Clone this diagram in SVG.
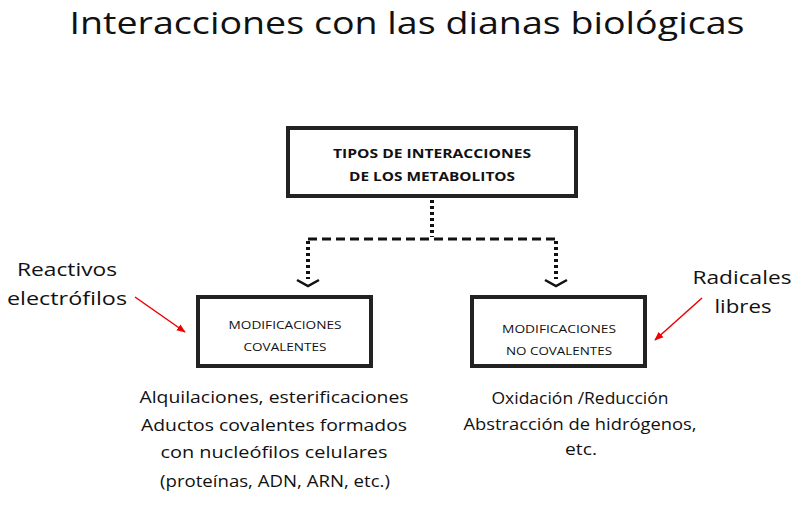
<svg xmlns="http://www.w3.org/2000/svg" width="807" height="505" viewBox="0 0 807 505">
<style>
.t{font-family:"Open Sans","DejaVu Sans",sans-serif;fill:#111;text-anchor:middle}
.box{fill:#fff;stroke:#222;stroke-width:4}
.dot{stroke:#111;stroke-width:4;stroke-dasharray:3 3;fill:none}
.dash{stroke:#111;stroke-width:3;stroke-dasharray:9 5;fill:none}
.chev{stroke:#111;stroke-width:2.5;fill:none}
.red{stroke:#e00;stroke-width:1.5;fill:none}
</style>
<defs>
<marker id="ra" viewBox="0 0 10 10" refX="9" refY="5" markerWidth="6" markerHeight="6" orient="auto"><path d="M0,1 L10,5 L0,9 Z" fill="#e00"/></marker>
</defs>
<rect width="807" height="505" fill="#fff"/>
<text class="t" x="407" y="34" font-size="31" textLength="675" lengthAdjust="spacingAndGlyphs">Interacciones con las dianas biológicas</text>
<g id="connectors">
<path class="dot" d="M432,200 V237"/>
<path class="dash" d="M308,239 H556"/>
<path class="dot" d="M308,241 V279"/>
<path class="dot" d="M556,241 V279"/>
<path class="chev" d="M297,280 L308,286 L319,280"/>
<path class="chev" d="M545,280 L556,286 L567,280"/>
<path class="red" d="M135,297 L185,332" marker-end="url(#ra)"/>
<path class="red" d="M702,298 L655,340" marker-end="url(#ra)"/>
</g>
<g id="top">
<rect class="box" x="288" y="128" width="288" height="68"/>
<text class="t" x="432" y="158" font-size="13" font-weight="bold" textLength="198" lengthAdjust="spacingAndGlyphs">TIPOS DE INTERACCIONES</text>
<text class="t" x="432" y="181" font-size="13" font-weight="bold" textLength="166" lengthAdjust="spacingAndGlyphs">DE LOS METABOLITOS</text>
</g>
<g id="cov">
<rect class="box" x="198" y="297" width="173" height="69"/>
<text class="t" x="285" y="329" font-size="11.5" textLength="113" lengthAdjust="spacingAndGlyphs">MODIFICACIONES</text>
<text class="t" x="285" y="351" font-size="11.5" textLength="83" lengthAdjust="spacingAndGlyphs">COVALENTES</text>
</g>
<g id="nocov">
<rect class="box" x="472" y="297" width="173" height="69"/>
<text class="t" x="559" y="333" font-size="11.5" textLength="114" lengthAdjust="spacingAndGlyphs">MODIFICACIONES</text>
<text class="t" x="559" y="355" font-size="11.5" textLength="106" lengthAdjust="spacingAndGlyphs">NO COVALENTES</text>
</g>
<g id="lab-left">
<text class="t" x="67" y="276" font-size="19" textLength="100" lengthAdjust="spacingAndGlyphs">Reactivos</text>
<text class="t" x="67" y="305" font-size="19" textLength="120" lengthAdjust="spacingAndGlyphs">electrófilos</text>
</g>
<g id="lab-right">
<text class="t" x="742" y="284" font-size="19" textLength="99" lengthAdjust="spacingAndGlyphs">Radicales</text>
<text class="t" x="743" y="313" font-size="19" textLength="57" lengthAdjust="spacingAndGlyphs">libres</text>
</g>
<g id="desc-left">
<text class="t" x="274" y="403" font-size="15.5" textLength="269" lengthAdjust="spacingAndGlyphs">Alquilaciones, esterificaciones</text>
<text class="t" x="274" y="431" font-size="15.5" textLength="266" lengthAdjust="spacingAndGlyphs">Aductos covalentes formados</text>
<text class="t" x="274" y="458" font-size="15.5" textLength="227" lengthAdjust="spacingAndGlyphs">con  nucleófilos celulares</text>
<text class="t" x="275" y="487" font-size="15.5" textLength="230" lengthAdjust="spacingAndGlyphs">(proteínas, ADN, ARN, etc.)</text>
</g>
<g id="desc-right">
<text class="t" x="580" y="404" font-size="15.5" textLength="177" lengthAdjust="spacingAndGlyphs">Oxidación /Reducción</text>
<text class="t" x="580" y="430" font-size="15.5" textLength="233" lengthAdjust="spacingAndGlyphs">Abstracción de hidrógenos,</text>
<text class="t" x="581" y="455" font-size="15.5" textLength="32" lengthAdjust="spacingAndGlyphs">etc.</text>
</g>
</svg>
